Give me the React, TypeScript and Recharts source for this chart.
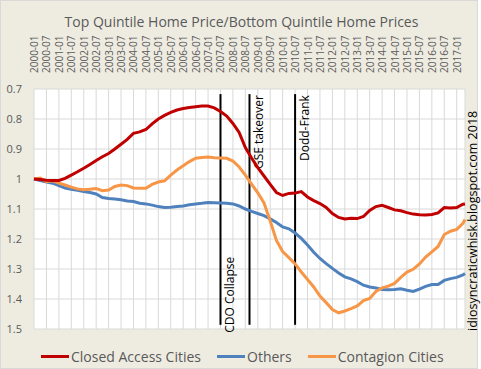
import { LineChart, Line, XAxis, YAxis, CartesianGrid, ReferenceLine } from 'recharts'

// quarterly samples, plus the last month shown
const dates = [
  '2000-01', '2000-04', '2000-07', '2000-10', '2001-01', '2001-04', '2001-07', '2001-10',
  '2002-01', '2002-04', '2002-07', '2002-10', '2003-01', '2003-04', '2003-07', '2003-10',
  '2004-01', '2004-04', '2004-07', '2004-10', '2005-01', '2005-04', '2005-07', '2005-10',
  '2006-01', '2006-04', '2006-07', '2006-10', '2007-01', '2007-04', '2007-07', '2007-10',
  '2008-01', '2008-04', '2008-07', '2008-10', '2009-01', '2009-04', '2009-07', '2009-10',
  '2010-01', '2010-04', '2010-07', '2010-10', '2011-01', '2011-04', '2011-07', '2011-10',
  '2012-01', '2012-04', '2012-07', '2012-10', '2013-01', '2013-04', '2013-07', '2013-10',
  '2014-01', '2014-04', '2014-07', '2014-10', '2015-01', '2015-04', '2015-07', '2015-10',
  '2016-01', '2016-04', '2016-07', '2016-10', '2017-01', '2017-04', '2017-05',
]

const closedAccess = [
  1.0, 1.002, 1.004, 1.005, 1.005, 0.998, 0.987, 0.976,
  0.964, 0.952, 0.938, 0.926, 0.915, 0.9, 0.884, 0.868,
  0.848, 0.843, 0.835, 0.816, 0.8, 0.788, 0.778, 0.77,
  0.765, 0.762, 0.759, 0.757, 0.757, 0.763, 0.775, 0.79,
  0.815, 0.845, 0.895, 0.93, 0.962, 0.99, 1.018, 1.045,
  1.055, 1.048, 1.047, 1.042, 1.06, 1.072, 1.082, 1.095,
  1.115, 1.128, 1.133, 1.131, 1.132, 1.125, 1.105, 1.092,
  1.088, 1.095, 1.103, 1.106, 1.112, 1.117, 1.119, 1.12,
  1.118, 1.113, 1.095, 1.097, 1.095, 1.084, 1.083,
]

const others = [
  1.0, 1.005, 1.01, 1.014, 1.022, 1.03, 1.034, 1.038,
  1.042, 1.045, 1.05, 1.062, 1.065, 1.067, 1.069, 1.073,
  1.075, 1.081, 1.083, 1.087, 1.092, 1.095, 1.094, 1.092,
  1.09, 1.086, 1.083, 1.081, 1.078, 1.079, 1.08, 1.081,
  1.083, 1.09, 1.1, 1.108, 1.115, 1.122, 1.133, 1.145,
  1.16, 1.166, 1.18, 1.198, 1.22, 1.244, 1.265, 1.282,
  1.298, 1.313, 1.326, 1.333, 1.342, 1.354, 1.36, 1.363,
  1.368, 1.369, 1.368, 1.366, 1.371, 1.375, 1.367, 1.358,
  1.352, 1.352, 1.338, 1.332, 1.328, 1.32, 1.315,
]

const contagion = [
  1.0, 0.997, 1.009, 1.006, 1.014, 1.02, 1.027, 1.033,
  1.036, 1.034, 1.032, 1.039, 1.037, 1.025, 1.02, 1.022,
  1.03, 1.031, 1.031, 1.018, 1.01, 1.006, 0.987, 0.97,
  0.956, 0.942, 0.931, 0.928, 0.927, 0.929, 0.93, 0.931,
  0.94, 0.96, 0.987, 1.017, 1.046, 1.08, 1.14, 1.205,
  1.242, 1.262, 1.283, 1.31, 1.335, 1.36, 1.39, 1.412,
  1.435, 1.446, 1.44, 1.432, 1.423, 1.405, 1.398, 1.375,
  1.363, 1.357, 1.348, 1.328, 1.31, 1.301, 1.283, 1.26,
  1.243, 1.225, 1.185, 1.174, 1.168, 1.148, 1.135,
]

const tickLabels = [
  '2000-01', '2000-07', '2001-01', '2001-07', '2002-01', '2002-07', '2003-01', '2003-07',
  '2004-01', '2004-07', '2005-01', '2005-07', '2006-01', '2006-07', '2007-01', '2007-07',
  '2008-01', '2008-07', '2009-01', '2009-07', '2010-01', '2010-07', '2011-01', '2011-07',
  '2012-01', '2012-07', '2013-01', '2013-07', '2014-01', '2014-07', '2015-01', '2015-07',
  '2016-01', '2016-07', '2017-01',
]

const yTicks = [0.7, 0.8, 0.9, 1, 1.1, 1.2, 1.3, 1.4, 1.5]

const eventDates = ['2007-07', '2008-09', '2010-07']
const eventLabels = ['CDO Collapse', 'GSE takeover', 'Dodd-Frank']
const eventSpan = [0.717, 1.486]

const seriesNames = ['Closed Access Cities', 'Others', 'Contagion Cities']
const watermark = 'idiosyncraticwhisk.blogspot.com  2018'

const monthIndex = (d: string) => {
  const [y, m] = d.split('-').map(Number)
  return (y - 2000) * 12 + (m - 1)
}

const data = dates.map((d, i) => ({
  t: monthIndex(d),
  closed: closedAccess[i],
  others: others[i],
  contagion: contagion[i],
}))

const FONT = '"Open Sans", sans-serif'
const TEXT = '#595959'
const colors = ['#c00000', '#4f81bd', '#f79646']

function TopTick(props: any) {
  const { x, y, payload } = props
  const label = tickLabels[Math.round(payload.value / 6)]
  return (
    <text
      x={x}
      y={y - 8}
      transform={`rotate(-90, ${x}, ${y - 8})`}
      textAnchor="start"
      dominantBaseline="central"
      fontSize={10}
      fontFamily={FONT}
      fill={TEXT}
    >
      {label}
    </text>
  )
}

function EventLabel(props: any) {
  const { viewBox, text, bottom } = props
  if (!viewBox) return null
  const x = viewBox.x + 9
  const y = bottom ? viewBox.y + viewBox.height + 8 : viewBox.y + 1
  return (
    <text
      x={x}
      y={y}
      transform={`rotate(-90, ${x}, ${y})`}
      textAnchor={bottom ? 'start' : 'end'}
      dominantBaseline="central"
      fontSize={12}
      fontFamily={FONT}
      fill="#000"
    >
      {text}
    </text>
  )
}

export default function App() {
  return (
    <div
      style={{
        position: 'absolute',
        left: 0,
        top: 0,
        width: 478,
        height: 369,
        background: '#eeece1',
        border: '1px solid #d9d9d9',
        boxSizing: 'border-box',
        fontFamily: FONT,
      }}
    >
      <div
        style={{
          position: 'absolute',
          top: 11,
          left: 0,
          width: 481,
          textAlign: 'center',
          fontSize: 14,
          color: TEXT,
        }}
      >
        Top Quintile Home Price/Bottom Quintile Home Prices
      </div>
      <div style={{ position: 'absolute', left: -1, top: -1 }}>
        <LineChart
          width={481}
          height={369}
          data={data}
          margin={{ top: 39, right: 16, bottom: 40, left: 4 }}
        >
          <CartesianGrid stroke="#d9d9d9" fill="#ffffff" strokeWidth={1} />
          <XAxis
            dataKey="t"
            type="number"
            orientation="top"
            domain={[0, 208]}
            ticks={tickLabels.map(monthIndex)}
            interval={0}
            height={50}
            tickLine={false}
            axisLine={false}
            tick={<TopTick />}
          />
          <YAxis
            reversed
            domain={[0.7, 1.5]}
            ticks={yTicks}
            interval={0}
            width={30}
            tickLine={false}
            axisLine={false}
            tickMargin={6}
            tickFormatter={(v: number) => String(Number(v.toFixed(1)))}
            tick={{ fontSize: 11, fill: TEXT, fontFamily: FONT }}
          />
          {eventDates.map((d, i) => (
            <ReferenceLine
              key={d}
              segment={[
                { x: monthIndex(d), y: eventSpan[0] },
                { x: monthIndex(d), y: eventSpan[1] },
              ]}
              stroke="#000"
              strokeWidth={2}
              ifOverflow="visible"
              label={<EventLabel text={eventLabels[i]} bottom={i === 0} />}
            />
          ))}
          <Line dataKey="others" stroke={colors[1]} strokeWidth={3} dot={false} isAnimationActive={false} />
          <Line dataKey="contagion" stroke={colors[2]} strokeWidth={3} dot={false} isAnimationActive={false} />
          <Line dataKey="closed" stroke={colors[0]} strokeWidth={3} dot={false} isAnimationActive={false} />
        </LineChart>
      </div>
      <svg width={481} height={369} style={{ position: 'absolute', left: -1, top: -1, pointerEvents: 'none' }}>
        <text
          x={472}
          y={331}
          transform="rotate(-90, 472, 331)"
          textAnchor="start"
          dominantBaseline="central"
          fontSize={12.5}
          fontFamily={FONT}
          fill="#000"
        >
          {watermark}
        </text>
      </svg>
      <div
        style={{
          position: 'absolute',
          left: 40,
          top: 346,
          display: 'flex',
          alignItems: 'center',
          fontSize: 14,
          color: TEXT,
          whiteSpace: 'nowrap',
        }}
      >
        {seriesNames.map((name, i) => (
          <div key={name} style={{ display: 'flex', alignItems: 'center', marginRight: 16 }}>
            <span style={{ width: 28, height: 3, background: colors[i], marginRight: 2 }} />
            <span>{name}</span>
          </div>
        ))}
      </div>
    </div>
  )
}
